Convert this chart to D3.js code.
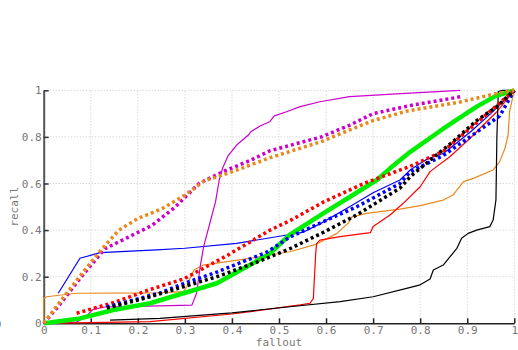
<!DOCTYPE html>
<html>
<head>
<meta charset="utf-8">
<script src="https://cdn.jsdelivr.net/npm/d3@7"></script>
<style>
  body { margin: 0; background: #fff; }
  svg { display: block; }
</style>
</head>
<body>
<div id="chart"></div>
<script>
var width = 518;
var height = 350;

// tick values for both axes
var xTicks = [0, 0.1, 0.2, 0.3, 0.4, 0.5, 0.6, 0.7, 0.8, 0.9, 1];
var yTicks = [0, 0.2, 0.4, 0.6, 0.8, 1];

// curves, [fallout, recall]
var orangeSolid = [[0,0],[0,0.107],[0.006,0.114],[0.07,0.129],[0.24,0.131],[0.297,0.136],[0.304,0.157],[0.31,0.19],[0.32,0.23],[0.339,0.25],[0.438,0.279],[0.48,0.293],[0.523,0.307],[0.58,0.34],[0.623,0.386],[0.647,0.43],[0.655,0.457],[0.686,0.472],[0.757,0.49],[0.8,0.505],[0.849,0.529],[0.87,0.551],[0.892,0.608],[0.913,0.622],[0.955,0.658],[0.969,0.694],[0.98,0.75],[0.987,0.81],[0.99,0.91],[1,1]];
var blueSolid = [[0.031,0.129],[0.077,0.279],[0.12,0.303],[0.24,0.315],[0.3,0.322],[0.41,0.343],[0.52,0.38],[0.55,0.39],[0.59,0.43],[0.65,0.5],[0.7,0.56],[0.757,0.615],[0.78,0.66],[0.815,0.705],[0.85,0.73],[0.906,0.82],[0.95,0.9],[1,1]];
var magentaSolid = [[0,0],[0.07,0.005],[0.09,0.03],[0.105,0.06],[0.13,0.07],[0.22,0.074],[0.315,0.078],[0.325,0.13],[0.333,0.25],[0.34,0.33],[0.357,0.46],[0.365,0.52],[0.373,0.615],[0.38,0.665],[0.392,0.72],[0.41,0.765],[0.435,0.808],[0.44,0.822],[0.46,0.847],[0.48,0.865],[0.49,0.89],[0.516,0.908],[0.545,0.93],[0.587,0.951],[0.65,0.973],[0.75,0.985],[0.885,1]];
var redSolid = [[0,0],[0.226,0.007],[0.4,0.04],[0.545,0.079],[0.566,0.086],[0.573,0.107],[0.578,0.3],[0.58,0.343],[0.587,0.357],[0.63,0.372],[0.694,0.389],[0.7,0.415],[0.736,0.465],[0.764,0.515],[0.8,0.586],[0.821,0.651],[0.863,0.715],[0.906,0.794],[0.927,0.837],[0.963,0.908],[1,1]];
var blackSolid = [[0.141,0.014],[0.247,0.021],[0.4,0.045],[0.523,0.071],[0.63,0.093],[0.7,0.114],[0.771,0.15],[0.8,0.165],[0.821,0.19],[0.828,0.229],[0.849,0.25],[0.878,0.322],[0.888,0.365],[0.902,0.386],[0.92,0.4],[0.948,0.415],[0.955,0.443],[0.961,0.53],[0.963,0.8],[0.966,0.995],[0.975,1],[1,1]];
var greenSolid = [[0,0],[0.013,0.003],[0.077,0.021],[0.148,0.057],[0.226,0.086],[0.297,0.129],[0.368,0.172],[0.438,0.25],[0.481,0.3],[0.523,0.38],[0.594,0.472],[0.651,0.543],[0.708,0.615],[0.736,0.665],[0.779,0.736],[0.849,0.835],[0.92,0.93],[0.96,0.975],[1,1]];
var redDotted = [[0.07,0.043],[0.15,0.09],[0.226,0.145],[0.297,0.19],[0.389,0.29],[0.481,0.4],[0.523,0.44],[0.594,0.52],[0.68,0.6],[0.78,0.675],[0.85,0.74],[0.92,0.86],[0.96,0.93],[1,1]];
var blueDotted = [[0.134,0.07],[0.247,0.13],[0.297,0.17],[0.368,0.22],[0.474,0.305],[0.523,0.37],[0.594,0.436],[0.665,0.5],[0.757,0.6],[0.779,0.65],[0.849,0.72],[0.92,0.82],[0.969,0.89],[1,1]];
var blackDotted = [[0.134,0.065],[0.226,0.114],[0.297,0.157],[0.368,0.2],[0.45,0.26],[0.523,0.32],[0.594,0.39],[0.665,0.465],[0.757,0.58],[0.779,0.63],[0.821,0.7],[0.87,0.78],[0.92,0.87],[0.963,0.93],[1,1]];
var magentaDotted = [[0,0],[0.03,0.07],[0.08,0.2],[0.13,0.32],[0.18,0.37],[0.23,0.42],[0.28,0.5],[0.33,0.6],[0.38,0.65],[0.44,0.7],[0.48,0.74],[0.59,0.8],[0.65,0.85],[0.7,0.9],[0.78,0.935],[0.885,0.972]];
var orangeDotted = [[0,0],[0.03,0.08],[0.08,0.21],[0.12,0.31],[0.16,0.4],[0.2,0.45],[0.25,0.49],[0.3,0.55],[0.34,0.61],[0.4,0.65],[0.48,0.71],[0.59,0.78],[0.65,0.83],[0.7,0.87],[0.77,0.91],[0.885,0.95],[0.96,0.985],[1,1]];

var series = [
  {data: orangeSolid, color: "#e8891c", w: 1.2, dash: null},
  {data: blueSolid, color: "#0000ff", w: 1.2, dash: null},
  {data: magentaSolid, color: "#cc00cc", w: 1.2, dash: null},
  {data: redSolid, color: "#ff0000", w: 1.2, dash: null},
  {data: blackSolid, color: "#000000", w: 1.2, dash: null},
  {data: greenSolid, color: "#00ee00", w: 4.5, dash: null},
  {data: redDotted, color: "#ff0000", w: 3.5, dash: "3,3"},
  {data: blueDotted, color: "#0000ff", w: 3.5, dash: "3,3"},
  {data: blackDotted, color: "#000000", w: 3.5, dash: "3,3"},
  {data: magentaDotted, color: "#cc00cc", w: 3.5, dash: "3,3"},
  {data: orangeDotted, color: "#e8891c", w: 3.5, dash: "3,3"}
];

var margin = {left: 43.7, right: 3.7, top: 90.3, bottom: 26.7};

var x = d3.scaleLinear().domain([0, 1]).range([margin.left, width - margin.right]);
var y = d3.scaleLinear().domain([0, 1]).range([height - margin.bottom, margin.top]);

var svg = d3.select("#chart")
  .append("svg")
    .attr("width", width)
    .attr("height", height)
    .attr("font-family", "'DejaVu Sans Mono', monospace")
    .attr("font-size", 11);

// grid
svg.append("g")
  .selectAll("line")
  .data(xTicks.filter(function(d) { return d > 0; }))
  .enter().append("line")
    .attr("x1", function(d) { return x(d); })
    .attr("x2", function(d) { return x(d); })
    .attr("y1", y(0))
    .attr("y2", y(1))
    .attr("stroke", "#c8c8c8")
    .attr("stroke-dasharray", "1,2");

svg.append("g")
  .selectAll("line")
  .data(yTicks.filter(function(d) { return d > 0; }))
  .enter().append("line")
    .attr("x1", x(0))
    .attr("x2", x(1))
    .attr("y1", function(d) { return y(d); })
    .attr("y2", function(d) { return y(d); })
    .attr("stroke", "#c8c8c8")
    .attr("stroke-dasharray", "1,2");

var fmt = function(d) { return d === 0 || d === 1 ? d3.format("d")(d) : d3.format(".1f")(d); };

// axes, ticks pointing inward
var xAxis = svg.append("g")
  .attr("transform", "translate(0," + y(0) + ")")
  .call(d3.axisBottom(x).tickValues(xTicks).tickSizeInner(-5).tickSizeOuter(0).tickPadding(3).tickFormat(fmt));
xAxis.select(".domain").attr("stroke", "#222").attr("stroke-width", 1.5);
xAxis.selectAll(".tick line").attr("stroke", "#222").attr("stroke-width", 1.5);
xAxis.selectAll("text").attr("fill", "#777").attr("font-family", "'DejaVu Sans Mono', monospace").attr("font-size", 11);

var yAxis = svg.append("g")
  .attr("transform", "translate(" + x(0) + ",0)")
  .call(d3.axisLeft(y).tickValues(yTicks).tickSizeInner(-5).tickSizeOuter(0).tickPadding(2).tickFormat(fmt));
yAxis.select(".domain").attr("stroke", "#555").attr("stroke-width", 2);
yAxis.selectAll(".tick line").attr("stroke", "#333").attr("stroke-width", 1.5);
yAxis.selectAll("text").attr("fill", "#777").attr("font-family", "'DejaVu Sans Mono', monospace").attr("font-size", 11);

// curves
var line = d3.line()
  .x(function(d) { return x(d[0]); })
  .y(function(d) { return y(d[1]); });

svg.append("g")
  .selectAll("path")
  .data(series)
  .enter().append("path")
    .attr("d", function(d) { return line(d.data); })
    .attr("fill", "none")
    .attr("stroke", function(d) { return d.color; })
    .attr("stroke-width", function(d) { return d.w; })
    .attr("stroke-dasharray", function(d) { return d.dash; })
    .attr("stroke-linejoin", "round");

// axis titles
svg.append("text")
  .attr("x", (x(0) + x(1)) / 2)
  .attr("y", 346)
  .attr("text-anchor", "middle")
  .attr("fill", "#777")
  .text("fallout");

svg.append("text")
  .attr("transform", "translate(18," + (y(0) + y(1)) / 2 + ") rotate(-90)")
  .attr("text-anchor", "middle")
  .attr("fill", "#777")
  .text("recall");

// stray label clipped at the left edge
svg.append("text")
  .attr("x", -2)
  .attr("y", y(0) + 5)
  .attr("text-anchor", "middle")
  .attr("fill", "#777")
  .text("0");
</script>
</body>
</html>
